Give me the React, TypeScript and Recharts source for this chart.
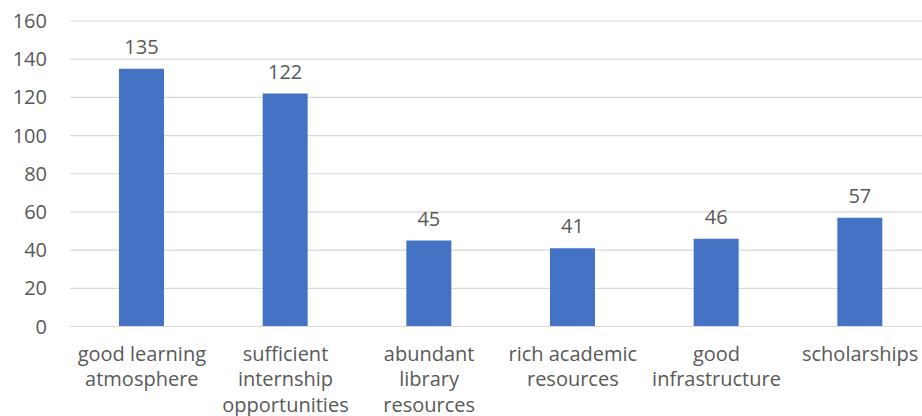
import React from "react";
import { BarChart, Bar, XAxis, YAxis, CartesianGrid, LabelList } from "recharts";

// Reasons cited, with the line breaks used for the axis labels
const categoryLines: string[][] = [
  ["good learning", "atmosphere"],
  ["sufficient", "internship", "opportunities"],
  ["abundant", "library", "resources"],
  ["rich academic", "resources"],
  ["good", "infrastructure"],
  ["scholarships"],
];
const counts: number[] = [135, 122, 45, 41, 46, 57];
const yTicks: number[] = [0, 20, 40, 60, 80, 100, 120, 140, 160];

const data = categoryLines.map((lines, i) => ({
  name: lines.join(" "),
  lines,
  value: counts[i],
}));

const TEXT = "#595959";
const GRID = "#D9D9D9";
const BAR = "#4472C4";
const FONT = "'Open Sans', sans-serif";
const FONT_SIZE = 20;

const WrappedTick = (props: any) => {
  const { x, y, payload, index } = props;
  const lines: string[] = categoryLines[index] ?? [String(payload.value)];
  return (
    <text x={x} y={y} textAnchor="middle" fill={TEXT} fontSize={FONT_SIZE} fontFamily={FONT}>
      {lines.map((line, i) => (
        <tspan key={i} x={x} dy={i === 0 ? 34 : 25.8}>
          {line}
        </tspan>
      ))}
    </text>
  );
};

export default function App() {
  return (
    <div
      style={{
        position: "fixed",
        left: 0,
        top: 0,
        width: 922,
        height: 416,
        overflow: "hidden",
        background: "#fff",
        fontFamily: FONT,
      }}
    >
      <BarChart
        width={932}
        height={416}
        data={data}
        margin={{ top: 21, right: 0, left: 10, bottom: 0 }}
      >
        <CartesianGrid vertical={false} stroke={GRID} strokeWidth={1.2} />
        <XAxis
          dataKey="name"
          interval={0}
          height={89.5}
          tickSize={0}
          tickMargin={0}
          tickLine={false}
          axisLine={{ stroke: GRID, strokeWidth: 1.2 }}
          tick={<WrappedTick />}
        />
        <YAxis
          domain={[0, 160]}
          ticks={yTicks}
          width={60}
          tickSize={0}
          tickMargin={23}
          axisLine={false}
          tickLine={false}
          tick={{ fill: TEXT, fontSize: FONT_SIZE, fontFamily: FONT }}
        />
        <Bar dataKey="value" fill={BAR} barSize={45} isAnimationActive={false}>
          <LabelList
            dataKey="value"
            position="top"
            offset={15}
            fill={TEXT}
            fontSize={FONT_SIZE}
            fontFamily={FONT}
          />
        </Bar>
      </BarChart>
    </div>
  );
}
